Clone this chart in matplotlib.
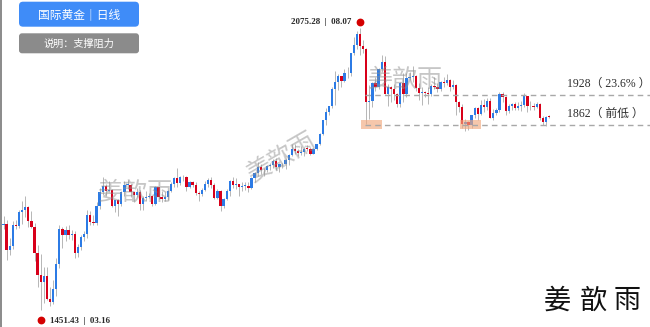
import numpy as np
import pandas as pd
import matplotlib
matplotlib.use('Agg')
import matplotlib.pyplot as plt
from matplotlib.patches import FancyBboxPatch, Rectangle
from matplotlib.lines import Line2D
from matplotlib.transforms import IdentityTransform, offset_copy

plt.rcParams['font.family'] = ['Noto Sans CJK SC', 'DejaVu Sans']
SERIF = ['Liberation Serif', 'Noto Sans CJK SC']

# 交易日（4/10 耶稣受难日休市）
dates = pd.bdate_range('2020-02-27', '2020-11-02').drop(pd.Timestamp('2020-04-10'))

# 日线 OHLC，按月分行：2月, 3月, 4月, 5月, 6月, 7月, 8月, 9月, 10月, 11月
opens = [
    1641, 1643,
    1585, 1593, 1640, 1637, 1669, 1673, 1679, 1649, 1635, 1577, 1530, 1513, 1527, 1477, 1469, 1498, 1553, 1632, 1617, 1628, 1617, 1621,
    1577, 1591, 1613, 1620, 1663, 1647, 1645, 1682, 1713, 1727, 1716, 1717, 1683, 1695, 1686, 1713, 1729, 1729, 1713, 1707, 1713,
    1687, 1700, 1702, 1705, 1686, 1725, 1702, 1697, 1701, 1715, 1730, 1743, 1732, 1745, 1746, 1725, 1735, 1729, 1710, 1708, 1718,
    1730, 1740, 1728, 1700, 1714, 1683, 1698, 1715, 1737, 1728, 1730, 1725, 1726, 1727, 1722, 1743, 1754, 1768, 1761, 1762, 1771, 1772,
    1781, 1769, 1775, 1774, 1784, 1795, 1809, 1803, 1798, 1802, 1809, 1808, 1797, 1809, 1818, 1842, 1871, 1889, 1902, 1941, 1957, 1970, 1958,
    1975, 1975, 2019, 2038, 2063, 2035, 2029, 1911, 1915, 1954, 1944, 1985, 2000, 1929, 1945, 1940, 1929, 1907, 1953, 1930, 1964,
    1968, 1970, 1943, 1931, 1934, 1932, 1930, 1947, 1945, 1941, 1956, 1954, 1960, 1944, 1950, 1912, 1900, 1863, 1868, 1861, 1882, 1898,
    1886, 1906, 1900, 1913, 1877, 1887, 1894, 1930, 1922, 1891, 1902, 1908, 1899, 1904, 1906, 1924, 1904, 1902, 1901, 1908, 1877, 1868,
    1880,
]
highs = [
    1660, 1652,
    1611, 1649, 1652, 1673, 1692, 1703, 1681, 1671, 1645, 1595, 1575, 1548, 1547, 1502, 1519, 1568, 1640, 1636, 1637, 1641, 1629, 1627,
    1598, 1617, 1626, 1672, 1670, 1661, 1690, 1722, 1747, 1730, 1738, 1719, 1696, 1698, 1716, 1738, 1739, 1731, 1716, 1721, 1718,
    1703, 1715, 1711, 1707, 1727, 1725, 1715, 1712, 1717, 1734, 1745, 1765, 1749, 1751, 1748, 1738, 1737, 1735, 1714, 1721, 1737,
    1744, 1745, 1732, 1720, 1718, 1700, 1719, 1739, 1745, 1744, 1731, 1735, 1734, 1735, 1745, 1756, 1779, 1774, 1767, 1773, 1776, 1785,
    1789, 1776, 1776, 1787, 1797, 1818, 1818, 1809, 1815, 1813, 1817, 1812, 1811, 1820, 1844, 1873, 1898, 1904, 1945, 1981, 1974, 1970, 1984,
    1989, 2021, 2055, 2069, 2075.28, 2049, 2031, 1949, 1957, 1966, 1987, 2015, 2013, 1951, 1947, 1951, 1932, 1955, 1975, 1975, 1979,
    1992, 1972, 1953, 1946, 1936, 1944, 1952, 1966, 1953, 1958, 1966, 1973, 1962, 1961, 1952, 1913, 1907, 1875, 1869, 1883, 1900, 1900,
    1917, 1918, 1920, 1921, 1897, 1898, 1933, 1933, 1925, 1908, 1910, 1912, 1912, 1913, 1931, 1925, 1914, 1910, 1912, 1910, 1880, 1881,
    1884,
]
lows = [
    1632, 1563,
    1574, 1586, 1631, 1634, 1642, 1657, 1636, 1633, 1560, 1504, 1451.43, 1468, 1474, 1460, 1466, 1482, 1545, 1590, 1604, 1610, 1606, 1568,
    1570, 1585, 1605, 1611, 1640, 1640, 1641, 1675, 1707, 1705, 1712, 1680, 1668, 1659, 1681, 1705, 1719, 1702, 1690, 1701, 1672,
    1672, 1694, 1700, 1683, 1685, 1697, 1690, 1692, 1696, 1712, 1725, 1723, 1728, 1738, 1716, 1722, 1725, 1706, 1693, 1704, 1715,
    1725, 1722, 1697, 1697, 1670, 1677, 1696, 1705, 1722, 1720, 1705, 1714, 1717, 1713, 1719, 1735, 1749, 1753, 1749, 1756, 1762, 1767,
    1762, 1757, 1766, 1763, 1772, 1793, 1796, 1793, 1795, 1793, 1803, 1795, 1796, 1805, 1816, 1838, 1862, 1883, 1899, 1906, 1938, 1944, 1956,
    1964, 1970, 2015, 2030, 2016, 2021, 1863, 1874, 1900, 1935, 1940, 1978, 1929, 1902, 1911, 1916, 1901, 1900, 1911, 1922, 1960,
    1957, 1935, 1917, 1906, 1922, 1907, 1924, 1940, 1934, 1937, 1944, 1950, 1935, 1940, 1883, 1890, 1854, 1848, 1850, 1855, 1877, 1872,
    1882, 1889, 1895, 1877, 1873, 1883, 1889, 1912, 1884, 1888, 1893, 1894, 1894, 1891, 1900, 1890, 1895, 1894, 1898, 1873, 1860, 1859,
    1876,
]
closes = [
    1643, 1585,
    1593, 1640, 1637, 1669, 1673, 1679, 1649, 1635, 1577, 1530, 1513, 1527, 1477, 1469, 1498, 1553, 1632, 1617, 1628, 1617, 1621, 1577,
    1591, 1613, 1620, 1663, 1647, 1645, 1682, 1713, 1727, 1716, 1717, 1683, 1695, 1686, 1713, 1729, 1729, 1713, 1707, 1713, 1687,
    1700, 1702, 1705, 1686, 1725, 1702, 1697, 1701, 1715, 1730, 1743, 1732, 1745, 1746, 1725, 1735, 1729, 1710, 1708, 1718, 1730,
    1740, 1728, 1700, 1714, 1683, 1698, 1715, 1737, 1728, 1730, 1725, 1726, 1727, 1722, 1743, 1754, 1768, 1761, 1762, 1771, 1772, 1781,
    1769, 1775, 1774, 1784, 1795, 1809, 1803, 1798, 1802, 1809, 1808, 1797, 1809, 1818, 1842, 1871, 1889, 1902, 1941, 1957, 1970, 1958, 1975,
    1975, 2019, 2038, 2063, 2035, 2029, 1911, 1915, 1954, 1944, 1985, 2000, 1929, 1945, 1940, 1929, 1907, 1953, 1930, 1964, 1968,
    1970, 1943, 1931, 1934, 1932, 1930, 1947, 1945, 1941, 1956, 1954, 1960, 1944, 1950, 1912, 1900, 1863, 1868, 1861, 1882, 1898, 1886,
    1906, 1900, 1913, 1877, 1887, 1894, 1930, 1922, 1891, 1902, 1908, 1899, 1904, 1906, 1924, 1904, 1902, 1901, 1908, 1877, 1868, 1879,
    1878,
]

levels = [1928, 1862]
level_notes = ['23.6%', '前低']

title = '国际黄金｜日线'
subtitle = '说明：支撑阻力'
author = '姜歆雨'

BLUE = '#2c7be5'
RED = '#d8001a'
W, H = 650, 327

o, h, l, c = (np.array(a, dtype=float) for a in (opens, highs, lows, closes))
idx = np.arange(len(o))
up = c >= o

fig = plt.figure(figsize=(W / 100, H / 100), dpi=100)
ax = fig.add_axes([0, 0, 1, 1])
ax.set_xlim(-1.13, 208.55)
ax.set_ylim(1414.5, 2137.2)
ax.axis('off')

# 蜡烛
ax.vlines(idx, l, h, color='#ababab', lw=0.6, zorder=2)
body = np.maximum(np.abs(c - o), 1.5)
ax.bar(idx, body, bottom=np.minimum(o, c), width=0.74,
       color=np.where(up, BLUE, RED), linewidth=0, zorder=3)

# 最高 / 最低
i_hi = int(np.argmax(h))
i_lo = int(np.argmin(l))
ax.plot(i_hi, h[i_hi], 'o', color='#d40000', ms=4.6, zorder=5,
        transform=offset_copy(ax.transData, fig, x=0, y=6, units='dots'))
ax.plot(i_lo, l[i_lo], 'o', color='#d40000', ms=4.6, zorder=5,
        transform=offset_copy(ax.transData, fig, x=0, y=-10, units='dots'))
ax.annotate(f'{h[i_hi]:.2f}  |  {dates[i_hi]:%m.%d}', xy=(i_hi, h[i_hi]),
            xytext=(-6, 4.5), textcoords='offset points', ha='right', va='center',
            fontsize=6.5, family=SERIF, fontweight='bold', color='#2a2a2a')
ax.annotate(f'{l[i_lo]:.2f}  |  {dates[i_lo]:%m.%d}', xy=(i_lo, l[i_lo]),
            xytext=(6.5, -8), textcoords='offset points', ha='left', va='center',
            fontsize=6.5, family=SERIF, fontweight='bold', color='#2a2a2a')

# 支撑阻力
i_drop = i_hi + int(np.argmin(l[i_hi:i_hi + 10]))
i_low2 = i_drop + 20 + int(np.argmin(l[i_drop + 20:]))
for lvl, note in zip(levels, level_notes):
    ax.hlines(lvl, i_drop - 0.5, ax.get_xlim()[1], color='#a8a8a8', lw=1,
              linestyles=(0, (4, 3)), zorder=6)
    ax.annotate(f'{lvl}（ {note} ）', xy=(181.8, lvl), xytext=(0, 8),
                textcoords='offset points', ha='left', va='center',
                fontsize=8.5, family=SERIF, color='#2e2e2e')
for i in (i_drop, i_low2):
    ax.add_patch(Rectangle((i - 1.6, levels[1] - 10), 6.7, 20,
                           facecolor='#f2a97e', alpha=0.65, lw=0, zorder=4))

# 水印
def fpos(x, y):
    return x / W, 1 - y / H

for (x, y, rot) in [(135, 193, 0), (282, 157, 30), (405, 80, 0)]:
    fig.text(*fpos(x, y), author, fontsize=18, color='#8f8f8f', alpha=0.5,
             rotation=rot, ha='center', va='center', fontweight='light', zorder=1)

# 标题框
ident = IdentityTransform()
fig.patches.append(FancyBboxPatch((19, H - 26.7), 120, 25, boxstyle='round,pad=0,rounding_size=4',
                                  facecolor='#3f8cf8', edgecolor='none', transform=ident))
fig.patches.append(FancyBboxPatch((19, H - 53.3), 120, 20, boxstyle='round,pad=0,rounding_size=3',
                                  facecolor='#8b8b8b', edgecolor='none', transform=ident))
fig.text(*fpos(79, 14.5), title, color='white', fontsize=8.5, ha='center', va='center')
fig.text(*fpos(79, 43.5), subtitle, color='white', fontsize=7.3, ha='center', va='center')

# 署名
for ch, x in zip(author, [557.5, 593.3, 626.7]):
    fig.text(*fpos(x, 301), ch, fontsize=19.5, color='#111111', ha='center', va='center',
             fontweight='light')

# 左边框
fig.add_artist(Line2D([0.0015, 0.0015], [0, 1], color='#8a8a8a', lw=1.4, transform=fig.transFigure))

fig.savefig('out.png', dpi=100)
